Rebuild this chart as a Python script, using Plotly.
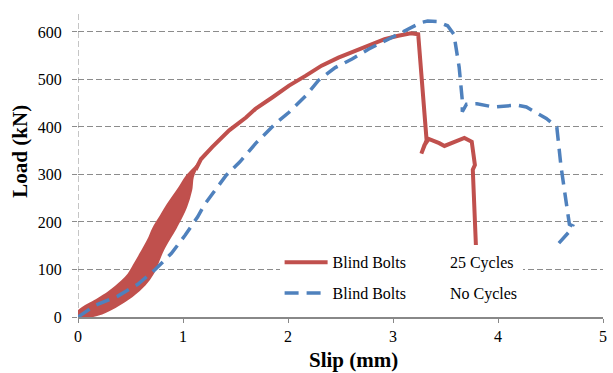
import plotly.graph_objects as go

# ---- data ----
# 25-cycle loading band (left/upper edge, bottom -> top)
band_up_x = [-0.06, 0.04, 0.16, 0.29, 0.42, 0.48, 0.54, 0.60, 0.67, 0.715, 0.78, 0.84, 0.97, 1.03, 1.13, 1.17]
band_up_y = [0, 19, 34, 52, 76, 90, 112, 135, 163, 186, 210, 232, 274, 295, 319, 330]
# band right/lower edge, top -> bottom
band_lo_x = [1.14, 1.094, 1.078, 1.03, 0.937, 0.81, 0.715, 0.637, 0.511, 0.353, 0.195, 0.00]
band_lo_y = [319, 295, 267, 232, 190, 141, 92, 68, 43, 21, 5, -3]

# Blind Bolts 25 Cycles - monotonic part after cycling
red_x = [1.12, 1.17, 1.28, 1.44, 1.60, 1.69, 1.85, 2.01, 2.17, 2.32, 2.48, 2.64, 2.80,
         2.92, 3.05, 3.17, 3.24, 3.29, 3.32, 3.27, 3.30, 3.34, 3.38, 3.44, 3.49, 3.58,
         3.68, 3.75, 3.78, 3.76, 3.77, 3.79]
red_y = [310, 332, 358, 393, 420, 438, 462, 487, 508, 529, 546, 560, 574,
         585, 592, 597, 595, 449, 372, 344, 362, 375, 372, 366, 360, 369,
         377, 369, 320, 310, 250, 149]

# Blind Bolts No Cycles
blue_x = [0.00, 0.16, 0.38, 0.57, 0.73, 0.89, 1.02, 1.14, 1.20, 1.28, 1.41, 1.54, 1.69,
          1.88, 2.01, 2.17, 2.29, 2.45, 2.61, 2.77, 2.92, 3.11, 3.27, 3.33, 3.42, 3.52,
          3.58, 3.63, 3.66, 3.66, 3.70, 3.80, 3.96, 4.18, 4.27, 4.46, 4.56, 4.60, 4.65,
          4.68, 4.71, 4.68, 4.57]
blue_y = [0, 24, 44, 69, 99, 134, 172, 211, 235, 260, 298, 326, 365,
          407, 431, 466, 498, 525, 543, 564, 581, 602, 620, 623, 622, 613,
          595, 526, 456, 432, 448, 449, 442, 446, 442, 418, 400, 317, 240,
          195, 192, 180, 153]

x_ticks = [0, 1, 2, 3, 4, 5]
y_ticks = [0, 100, 200, 300, 400, 500, 600]

RED = "#C0504D"
BLUE = "#4F81BD"
GRID = "#8C8C8C"
FONT = "Liberation Serif"
GAP = "\u00a0" * 11

fig = go.Figure()

# cycling band (filled polygon)
fig.add_trace(go.Scatter(
    x=band_up_x + band_lo_x, y=band_up_y + band_lo_y,
    mode="lines", fill="toself", fillcolor=RED, line_shape="spline",
    line=dict(color=RED, width=2), showlegend=False, hoverinfo="skip",
    legendgroup="a"))

fig.add_trace(go.Scatter(
    x=red_x, y=red_y, mode="lines",
    line=dict(color=RED, width=4),
    name="Blind Bolts" + GAP + "25 Cycles", legendgroup="a"))

fig.add_trace(go.Scatter(
    x=blue_x, y=blue_y, mode="lines",
    line=dict(color=BLUE, width=3.5, dash="14px,8px"),
    name="Blind Bolts" + GAP + "No Cycles", legendgroup="b"))

fig.update_layout(
    width=613, height=373,
    margin=dict(l=78, r=6, t=12, b=56),
    paper_bgcolor="white", plot_bgcolor="white",
    font=dict(family=FONT, size=16, color="black"),
    showlegend=True,
    legend=dict(x=0.384, y=0.235, xanchor="left", yanchor="top",
                bgcolor="white", borderwidth=0, tracegroupgap=7, itemwidth=43,
                font=dict(family=FONT, size=16, color="black")),
    xaxis=dict(range=[0, 5], tickvals=x_ticks, ticktext=[str(v) for v in x_ticks],
               showgrid=False, zeroline=False,
               showline=True, linecolor="#888888", linewidth=1.5,
               ticks="outside", ticklen=4, tickcolor="#888888", tickwidth=1,
               tickfont=dict(family=FONT, size=16, color="black")),
    yaxis=dict(range=[0, 642], tickvals=y_ticks, ticktext=[str(v) for v in y_ticks],
               showgrid=True, gridcolor=GRID, gridwidth=1, griddash="6px,3px",
               zeroline=False, showline=False,
               ticks="outside", ticklen=5, tickcolor=GRID, ticklabelstandoff=7,
               tickfont=dict(family=FONT, size=16, color="black")),
    shapes=[
        # dashed vertical line at x = 0
        dict(type="line", xref="x", yref="paper", x0=0, x1=0, y0=0, y1=1,
             line=dict(color=GRID, width=1, dash="6px,3px"), layer="below"),
        # white legend panel hiding grid
        dict(type="rect", xref="x", yref="y", x0=1.04, x1=4.92, y0=55, y1=145,
             fillcolor="white", line=dict(width=0), layer="below"),
    ],
    annotations=[
        dict(text="<b>Load (kN)</b>", xref="paper", yref="paper", x=-0.11, y=0.543,
             xanchor="center", yanchor="middle", textangle=-90, showarrow=False,
             font=dict(family=FONT, size=21, color="black")),
        dict(text="<b>Slip (mm)</b>", xref="paper", yref="paper", x=0.5255, y=-0.142,
             xanchor="center", yanchor="middle", showarrow=False,
             font=dict(family=FONT, size=21, color="black")),
    ],
)

fig.write_html("out.html", config={"displayModeBar": False},
               post_script="document.body.style.margin='0';document.body.style.padding='0';")
